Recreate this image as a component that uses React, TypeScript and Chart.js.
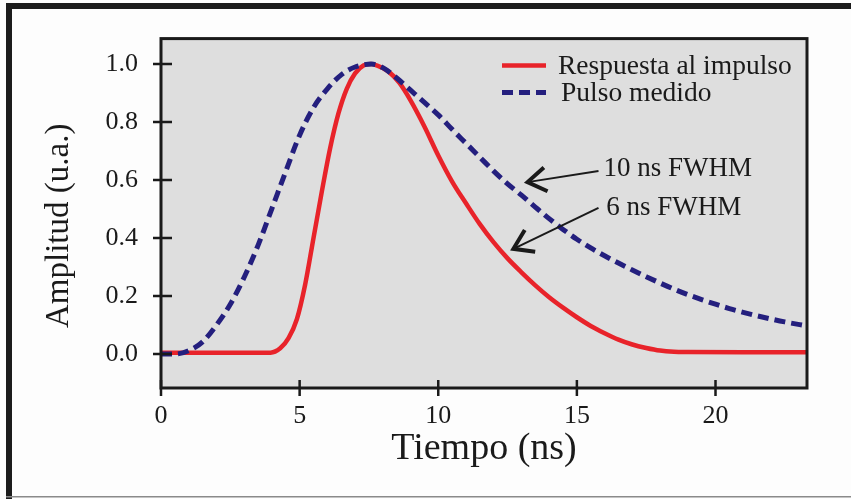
import React, { useEffect, useRef } from 'react';
import { Chart, registerables } from 'chart.js';

Chart.register(...registerables);

// ---------- data ----------
const seriesNames = ['Respuesta al impulso', 'Pulso medido'];

const redTime = [0, 2, 3.95, 4.3, 4.6, 4.9, 5.2, 5.5, 5.8, 6.1, 6.4, 6.7, 7.0, 7.3, 7.55, 7.8, 8.2, 8.6, 9.0, 9.5, 10.0, 10.5, 11.0, 11.5, 12.0, 12.5, 13.0, 13.5, 14.0, 14.5, 15.0, 15.5, 16.0, 16.5, 17.0, 17.5, 18.0, 18.5, 19.0, 21.0, 23.3];
const redAmp = [0.005, 0.005, 0.005, 0.02, 0.055, 0.12, 0.24, 0.4, 0.56, 0.71, 0.83, 0.915, 0.968, 0.995, 1.0, 0.995, 0.975, 0.935, 0.875, 0.785, 0.685, 0.595, 0.52, 0.448, 0.385, 0.33, 0.282, 0.237, 0.196, 0.16, 0.127, 0.097, 0.072, 0.05, 0.033, 0.021, 0.012, 0.008, 0.007, 0.006, 0.006];

const blueTime = [0, 0.5, 1.0, 1.5, 2.0, 2.5, 3.0, 3.5, 4.0, 4.5, 5.0, 5.5, 6.0, 6.5, 7.0, 7.6, 8.0, 8.5, 9.0, 9.5, 10.0, 10.5, 11.0, 11.5, 12.0, 12.5, 13.0, 13.5, 14.0, 14.5, 15.0, 15.5, 16.0, 16.5, 17.0, 17.5, 18.0, 18.5, 19.0, 19.5, 20.0, 20.5, 21.0, 21.5, 22.0, 22.5, 23.3];
const blueAmp = [0, 0.0, 0.012, 0.042, 0.1, 0.172, 0.265, 0.375, 0.502, 0.63, 0.755, 0.85, 0.915, 0.963, 0.99, 1.0, 0.988, 0.952, 0.91, 0.868, 0.825, 0.775, 0.727, 0.679, 0.631, 0.587, 0.548, 0.507, 0.467, 0.43, 0.396, 0.366, 0.339, 0.314, 0.29, 0.267, 0.245, 0.224, 0.205, 0.188, 0.172, 0.157, 0.144, 0.132, 0.121, 0.111, 0.097];

const xTickValues = [0, 5, 10, 15, 20];
const xTickLabels = ['0', '5', '10', '15', '20'];
const yTickValues = [0, 0.2, 0.4, 0.6, 0.8, 1.0];
const yTickLabels = ['0.0', '0.2', '0.4', '0.6', '0.8', '1.0'];

const xRange = [0, 23.3];
const yRange = [-0.117, 1.088];

const xTitle = 'Tiempo (ns)';
const yTitle = 'Amplitud (u.a.)';

// annotation texts with arrows, positioned in data units
const noteTexts = ['10 ns FWHM', '6 ns FWHM'];
const noteTextAt = [[15.96, 0.614], [16.06, 0.48]];
const noteArrowTail = [[15.78, 0.631], [15.78, 0.504]];
const noteArrowTip = [[13.22, 0.593], [12.71, 0.363]];

// ---------- styling ----------
const FONT = "'Liberation Serif', 'Times New Roman', serif";
const INK = '#1a1a1a';
const RED = '#e8232a';
const BLUE = '#241f7e';

const W = 851;
const H = 499;

const decorPlugin = {
  id: 'decor',
  beforeDraw(chart: any) {
    const { ctx, width, height, chartArea: a } = chart;
    ctx.save();
    ctx.fillStyle = '#fdfdfd';
    ctx.fillRect(0, 0, width, height);
    // outer frame
    ctx.fillStyle = '#1c1c1c';
    ctx.fillRect(6, 3, width - 6, 6);
    ctx.fillRect(6, 3, 6, height - 3);
    ctx.fillStyle = '#8a8a8a';
    ctx.fillRect(6, height - 3, width - 6, 1.5);
    // plot background
    ctx.fillStyle = '#dedede';
    ctx.fillRect(a.left, a.top, a.right - a.left, a.bottom - a.top);
    ctx.restore();
  },
  afterDraw(chart: any) {
    const { ctx, chartArea: a, scales } = chart;
    const xs = scales.x;
    const ys = scales.y;
    ctx.save();
    // plot border
    ctx.strokeStyle = INK;
    ctx.lineWidth = 3;
    ctx.strokeRect(a.left, a.top, a.right - a.left, a.bottom - a.top);

    // tick marks
    ctx.lineWidth = 2.5;
    ctx.beginPath();
    ys.ticks.forEach((t: any) => {
      const y = ys.getPixelForValue(t.value);
      ctx.moveTo(a.left - 8, y);
      ctx.lineTo(a.left + 11, y);
    });
    xs.ticks.forEach((t: any) => {
      const x = xs.getPixelForValue(t.value);
      ctx.moveTo(x, a.bottom - 8);
      ctx.lineTo(x, a.bottom + 8);
    });
    ctx.stroke();

    // legend
    const ds = chart.data.datasets;
    const lx = a.right - 305;
    ds.forEach((d: any, i: number) => {
      const ry = a.top + 27 + i * 27;
      ctx.beginPath();
      ctx.strokeStyle = d.borderColor;
      ctx.lineWidth = d.borderWidth;
      ctx.setLineDash(d.borderDash || []);
      ctx.moveTo(lx, ry);
      ctx.lineTo(lx + 44, ry);
      ctx.stroke();
      ctx.setLineDash([]);
      ctx.fillStyle = INK;
      ctx.font = `27.5px ${FONT}`;
      ctx.textAlign = 'left';
      ctx.textBaseline = 'alphabetic';
      ctx.fillText(d.label, lx + 56 + i * 3, ry + 8.5);
    });

    // annotations
    noteTexts.forEach((txt, i) => {
      const tx = xs.getPixelForValue(noteTextAt[i][0]);
      const ty = ys.getPixelForValue(noteTextAt[i][1]);
      ctx.fillStyle = INK;
      ctx.font = `27px ${FONT}`;
      ctx.textAlign = 'left';
      ctx.textBaseline = 'alphabetic';
      ctx.fillText(txt, tx, ty);

      const x0 = xs.getPixelForValue(noteArrowTail[i][0]);
      const y0 = ys.getPixelForValue(noteArrowTail[i][1]);
      const x1 = xs.getPixelForValue(noteArrowTip[i][0]);
      const y1 = ys.getPixelForValue(noteArrowTip[i][1]);
      ctx.strokeStyle = INK;
      ctx.lineWidth = 2;
      ctx.beginPath();
      ctx.moveTo(x0, y0);
      ctx.lineTo(x1, y1);
      ctx.stroke();
      const ang = Math.atan2(y0 - y1, x0 - x1);
      const L = 22;
      const sp = 0.58;
      ctx.lineWidth = 4;
      ctx.lineJoin = 'miter';
      ctx.beginPath();
      ctx.moveTo(x1 + L * Math.cos(ang - sp), y1 + L * Math.sin(ang - sp));
      ctx.lineTo(x1, y1);
      ctx.lineTo(x1 + L * Math.cos(ang + sp), y1 + L * Math.sin(ang + sp));
      ctx.stroke();
    });

    // y axis title
    ctx.translate(68, (a.top + a.bottom) / 2 + 12.5);
    ctx.rotate(-Math.PI / 2);
    ctx.fillStyle = INK;
    ctx.font = `33px ${FONT}`;
    ctx.textAlign = 'center';
    ctx.textBaseline = 'alphabetic';
    ctx.fillText(yTitle, 0, 0);
    ctx.restore();
  },
};

export default function App() {
  const ref = useRef<HTMLCanvasElement | null>(null);

  useEffect(() => {
    if (!ref.current) return;
    const redData = redTime.map((x, i) => ({ x, y: redAmp[i] }));
    const blueData = blueTime.map((x, i) => ({ x, y: blueAmp[i] }));

    const chart = new Chart(ref.current, {
      type: 'line',
      data: {
        datasets: [
          {
            label: seriesNames[0],
            data: redData,
            borderColor: RED,
            backgroundColor: RED,
            borderWidth: 4.5,
            pointRadius: 0,
            cubicInterpolationMode: 'monotone',
            fill: false,
            order: 1,
          },
          {
            label: seriesNames[1],
            data: blueData,
            borderColor: BLUE,
            backgroundColor: BLUE,
            borderWidth: 5,
            borderDash: [11, 6],
            borderCapStyle: 'butt',
            pointRadius: 0,
            cubicInterpolationMode: 'monotone',
            fill: false,
            order: 0,
          },
        ],
      } as any,
      options: {
        responsive: false,
        animation: false,
        devicePixelRatio: 1,
        layout: { padding: { left: 0, top: 37, right: W - 807, bottom: 0 } },
        plugins: {
          legend: { display: false },
          tooltip: { enabled: false },
          title: { display: false },
        },
        scales: {
          x: {
            type: 'linear',
            min: xRange[0],
            max: xRange[1],
            afterBuildTicks: (s: any) => {
              s.ticks = xTickValues.map((value) => ({ value }));
            },
            afterFit: (s: any) => {
              s.height = H - 388;
            },
            grid: { display: false, drawTicks: false },
            border: { display: false },
            ticks: {
              callback: (_v: any, i: number) => xTickLabels[i],
              font: { family: FONT, size: 26 },
              color: INK,
              padding: 13,
              maxRotation: 0,
              autoSkip: false,
            },
            title: {
              display: true,
              text: xTitle,
              font: { family: FONT, size: 38 },
              color: INK,
              padding: { top: 0, bottom: 27.3 },
            },
          },
          y: {
            type: 'linear',
            min: yRange[0],
            max: yRange[1],
            afterBuildTicks: (s: any) => {
              s.ticks = yTickValues.map((value) => ({ value }));
            },
            afterFit: (s: any) => {
              s.width = 161;
            },
            grid: { display: false, drawTicks: false },
            border: { display: false },
            ticks: {
              callback: (_v: any, i: number) => yTickLabels[i],
              font: { family: FONT, size: 26 },
              color: INK,
              padding: 23,
              autoSkip: false,
            },
          },
        },
      } as any,
      plugins: [decorPlugin],
    });
    return () => chart.destroy();
  }, []);

  return (
    <div style={{ position: 'fixed', left: 0, top: 0, width: W, height: H, background: '#fdfdfd' }}>
      <canvas ref={ref} width={W} height={H} style={{ width: W, height: H, display: 'block' }} />
    </div>
  );
}
